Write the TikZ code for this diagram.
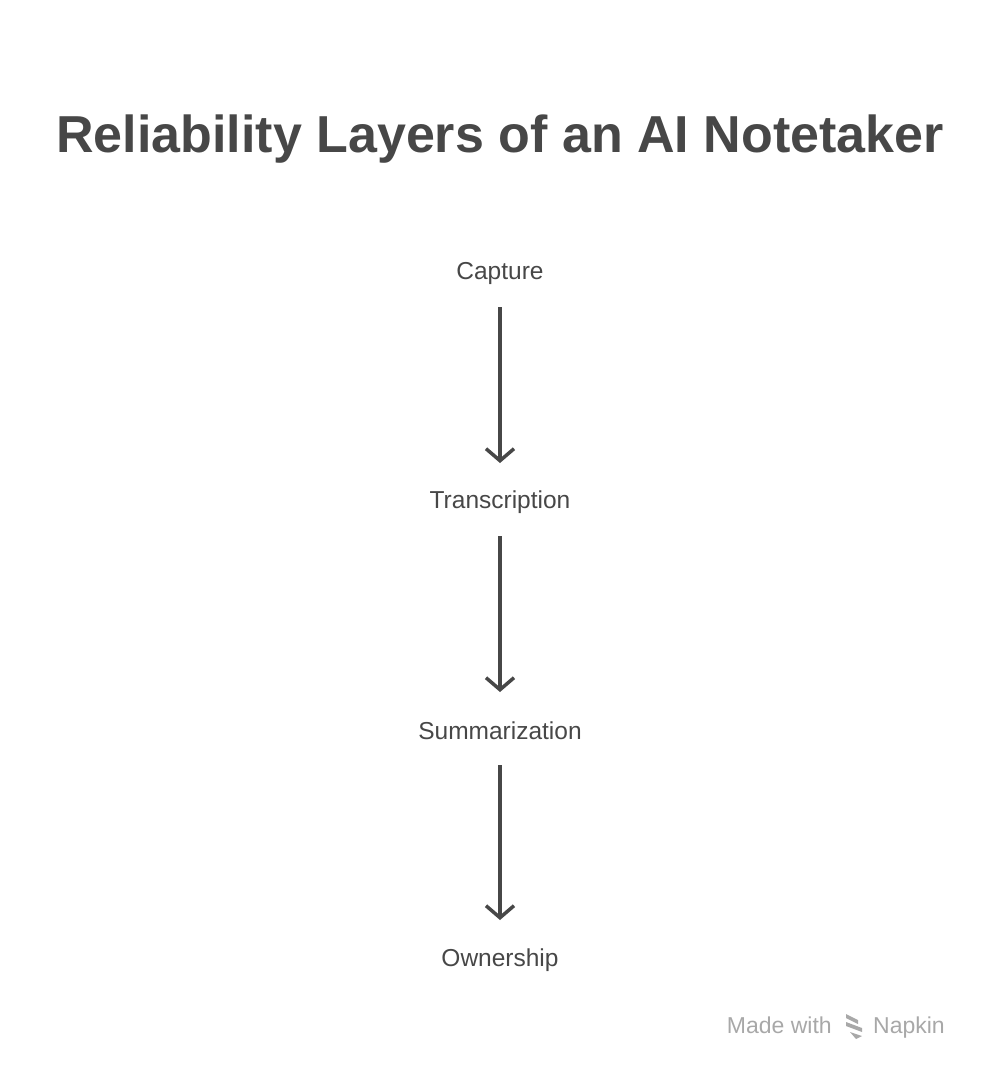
\documentclass[tikz,border=0pt]{standalone}
\usepackage{fontspec}
\setmainfont{Liberation Sans}
\usetikzlibrary{arrows.meta}
\definecolor{ink}{HTML}{474747}
\definecolor{wm}{HTML}{A8A8A8}
\begin{document}
\begin{tikzpicture}[x=1pt,y=-1pt,
  lab/.style={text=ink,font=\fontsize{24.5}{28}\selectfont,inner sep=0pt},
  arr/.style={draw=ink,line width=3.5pt,-{Straight Barb[length=12pt,width=28pt,line width=3.5pt]}}]
\useasboundingbox (0,0) rectangle (1000,1082);
\node[text=ink,font=\fontsize{52}{60}\selectfont\bfseries,inner sep=0pt] (title) at (500,139) {Reliability Layers of an AI Notetaker};
\node[lab] (c) at (500,273) {Capture};
\node[lab] (t) at (500,502) {Transcription};
\node[lab] (s) at (500,731) {Summarization};
\node[lab] (o) at (500,960) {Ownership};
\coordinate (a1) at (500,307); \coordinate (b1) at (500,463);
\coordinate (a2) at (500,536); \coordinate (b2) at (500,692);
\coordinate (a3) at (500,765); \coordinate (b3) at (500,920);
\draw[arr] (a1) -- (b1);
\draw[arr] (a2) -- (b2);
\draw[arr] (a3) -- (b3);
\node[text=wm,font=\fontsize{23}{26}\selectfont,inner sep=0pt,anchor=base east] (mw) at (832,1033) {Made with};
\node[text=wm,font=\fontsize{23}{26}\selectfont,inner sep=0pt,anchor=base west] (nk) at (873,1033) {Napkin};
\fill[wm] (846,1014) -- (858,1020) -- (858,1024) -- (846,1018) -- cycle;
\fill[wm] (846,1022) -- (862,1028) -- (862,1032) -- (846,1026) -- cycle;
\fill[wm] (850,1032) -- (862,1036) -- (856,1039) -- cycle;
\end{tikzpicture}
\end{document}
